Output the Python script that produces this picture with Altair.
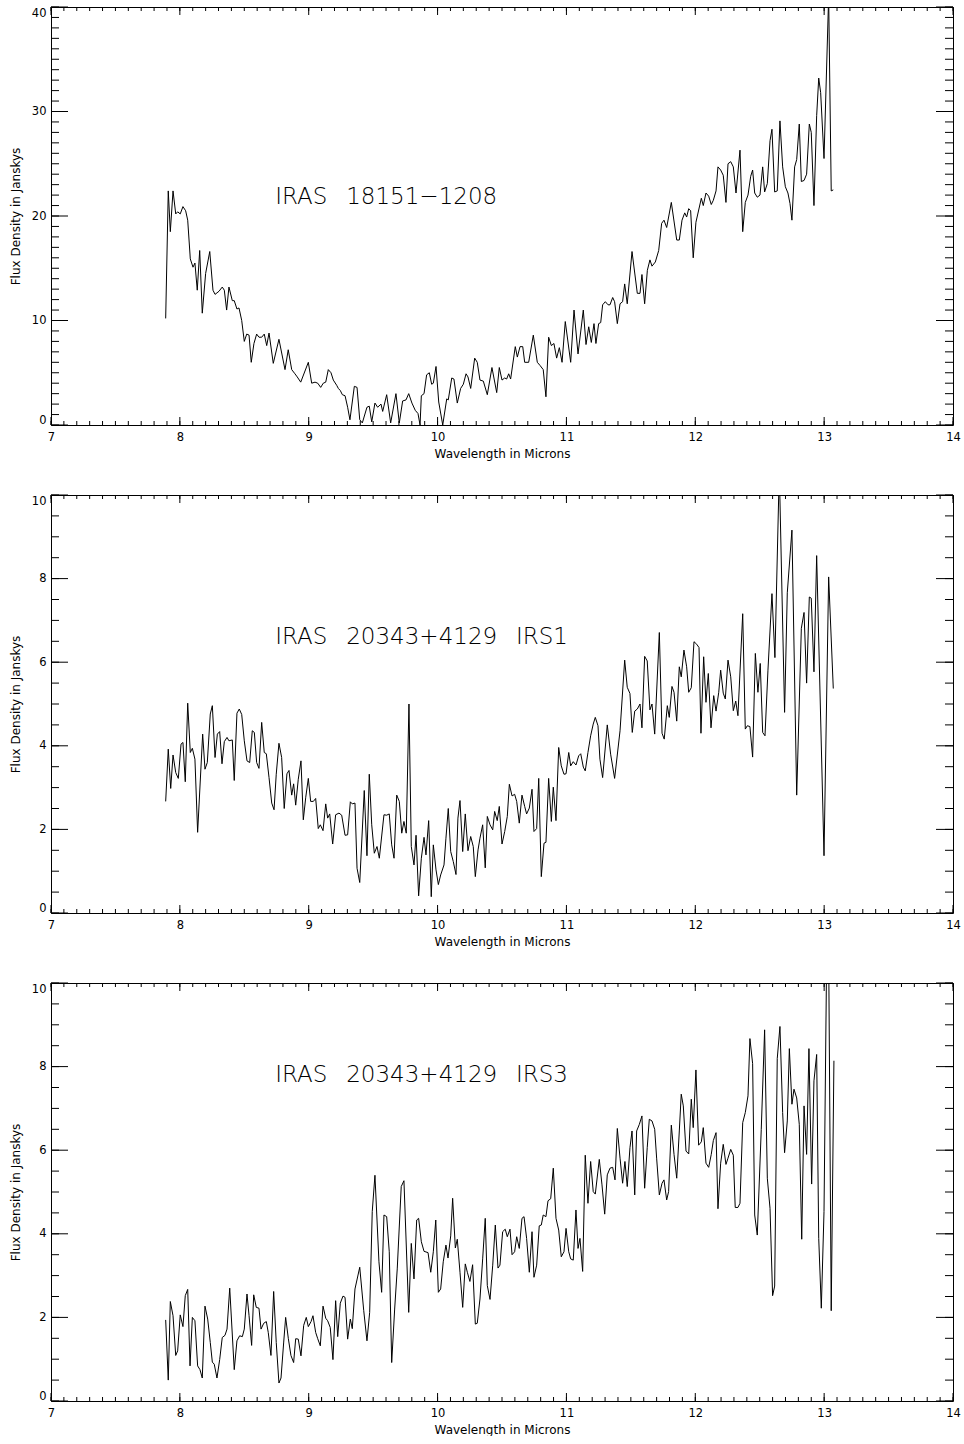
import altair as alt
import pandas as pd

# ---------------- data ----------------
wl1 = [7.890, 7.910, 7.926, 7.947, 7.968, 7.983, 8.003, 8.024, 8.045, 8.061,
       8.081, 8.102, 8.117, 8.135, 8.154, 8.174, 8.200, 8.232, 8.257, 8.273,
       8.304, 8.329, 8.345, 8.363, 8.381, 8.407, 8.422, 8.443, 8.459, 8.480,
       8.500, 8.519, 8.537, 8.554, 8.575, 8.596, 8.614, 8.635, 8.655, 8.674,
       8.692, 8.725, 8.769, 8.816, 8.841, 8.868, 8.893, 8.911, 8.938, 8.997,
       9.023, 9.049, 9.070, 9.093, 9.113, 9.132, 9.152, 9.173, 9.191, 9.217,
       9.230, 9.245, 9.261, 9.282, 9.302, 9.320, 9.354, 9.375, 9.396, 9.416,
       9.452, 9.470, 9.489, 9.514, 9.535, 9.561, 9.574, 9.605, 9.636, 9.677,
       9.703, 9.729, 9.755, 9.776, 9.801, 9.827, 9.848, 9.864, 9.874, 9.895,
       9.915, 9.936, 9.954, 9.967, 9.988, 10.009, 10.040, 10.071, 10.083, 10.110,
       10.127, 10.153, 10.179, 10.200, 10.221, 10.236, 10.257, 10.288, 10.308, 10.329,
       10.355, 10.386, 10.422, 10.459, 10.479, 10.500, 10.521, 10.536, 10.552, 10.567,
       10.603, 10.619, 10.640, 10.661, 10.676, 10.707, 10.743, 10.774, 10.795, 10.820,
       10.841, 10.862, 10.883, 10.903, 10.924, 10.945, 10.966, 10.991, 11.033, 11.059,
       11.090, 11.131, 11.152, 11.173, 11.193, 11.214, 11.229, 11.250, 11.266, 11.281,
       11.302, 11.323, 11.338, 11.359, 11.374, 11.395, 11.416, 11.436, 11.452, 11.472,
       11.509, 11.550, 11.571, 11.586, 11.607, 11.628, 11.648, 11.664, 11.690, 11.716,
       11.739, 11.757, 11.778, 11.814, 11.856, 11.876, 11.897, 11.918, 11.933, 11.949,
       11.964, 11.984, 12.005, 12.047, 12.062, 12.083, 12.104, 12.124, 12.140, 12.161,
       12.176, 12.197, 12.217, 12.238, 12.254, 12.275, 12.295, 12.316, 12.347, 12.368,
       12.388, 12.409, 12.430, 12.445, 12.461, 12.481, 12.502, 12.523, 12.538, 12.559,
       12.580, 12.595, 12.616, 12.636, 12.657, 12.678, 12.699, 12.719, 12.735, 12.750,
       12.771, 12.787, 12.807, 12.823, 12.844, 12.864, 12.885, 12.900, 12.921, 12.942,
       12.958, 12.973, 12.999, 13.035, 13.055, 13.071]
flux1 = [10.2, 22.4, 18.5, 22.4, 20.2, 20.4, 20.2, 20.9, 20.5, 19.6,
         15.9, 15.1, 15.5, 12.9, 16.7, 10.7, 14.5, 16.6, 12.9, 12.5,
         12.8, 13.2, 12.9, 11.0, 13.2, 11.9, 11.9, 11.1, 11.2, 10.0,
         8.0, 8.7, 8.6, 6.0, 7.8, 8.7, 8.4, 8.4, 8.7, 7.6,
         8.8, 5.9, 8.2, 5.3, 7.2, 5.3, 4.9, 4.6, 4.1, 6.0,
         4.0, 4.1, 4.0, 3.6, 4.0, 4.1, 5.3, 5.0, 4.3, 3.8,
         3.5, 3.3, 2.9, 2.8, 1.7, 0.5, 3.7, 3.6, 0.5, 0.2,
         1.7, 1.8, 0.3, 2.1, 1.7, 2.0, 1.3, 2.9, 0.2, 3.0,
         0.2, 2.3, 2.4, 3.0, 2.1, 1.4, 1.1, 0.0, 2.8, 3.0,
         4.8, 5.0, 3.9, 4.0, 5.6, 2.2, 0.0, 2.5, 2.4, 4.5,
         4.4, 2.1, 3.5, 3.9, 4.9, 4.6, 3.5, 6.4, 6.0, 4.3,
         4.2, 2.9, 5.5, 3.1, 5.5, 4.3, 4.5, 4.4, 4.9, 4.4,
         7.5, 6.5, 7.5, 7.5, 6.0, 6.0, 8.6, 6.0, 5.7, 5.3,
         2.7, 8.4, 7.6, 7.8, 6.4, 7.4, 6.0, 9.9, 6.0, 11.0,
         6.8, 11.0, 7.7, 9.4, 7.9, 9.7, 7.8, 9.7, 9.8, 11.5,
         11.8, 11.5, 11.5, 12.2, 11.8, 9.7, 11.6, 11.8, 13.5, 11.6,
         16.6, 12.6, 12.6, 14.4, 11.6, 14.8, 15.8, 15.2, 15.6, 16.7,
         19.3, 19.6, 18.9, 21.3, 17.7, 17.7, 19.6, 20.3, 19.9, 20.7,
         20.5, 16.0, 19.4, 21.7, 21.0, 22.2, 21.9, 21.1, 21.5, 22.4,
         24.7, 24.4, 23.9, 21.3, 25.0, 25.2, 24.7, 22.2, 26.3, 18.5,
         21.3, 22.0, 23.8, 24.4, 22.2, 21.8, 22.0, 24.7, 22.3, 23.1,
         27.2, 28.3, 22.3, 22.4, 29.1, 24.7, 22.8, 22.2, 21.2, 19.6,
         24.7, 25.4, 28.8, 23.3, 23.4, 24.0, 28.8, 28.0, 21.0, 29.6,
         33.2, 31.8, 25.5, 41.0, 22.4, 22.5]

wl2 = [7.890, 7.910, 7.929, 7.947, 7.968, 7.988, 8.009, 8.024, 8.042, 8.061,
       8.081, 8.097, 8.117, 8.138, 8.177, 8.195, 8.213, 8.236, 8.252, 8.273,
       8.291, 8.309, 8.327, 8.345, 8.366, 8.381, 8.407, 8.422, 8.443, 8.461,
       8.480, 8.500, 8.521, 8.542, 8.562, 8.578, 8.596, 8.614, 8.635, 8.655,
       8.671, 8.692, 8.713, 8.731, 8.748, 8.769, 8.790, 8.810, 8.831, 8.847,
       8.868, 8.883, 8.899, 8.919, 8.940, 8.958, 8.977, 8.997, 9.015, 9.036,
       9.054, 9.074, 9.090, 9.111, 9.132, 9.147, 9.163, 9.186, 9.209, 9.235,
       9.256, 9.282, 9.302, 9.323, 9.338, 9.359, 9.375, 9.396, 9.431, 9.452,
       9.470, 9.489, 9.509, 9.530, 9.548, 9.584, 9.605, 9.625, 9.644, 9.662,
       9.683, 9.703, 9.722, 9.739, 9.757, 9.778, 9.796, 9.817, 9.833, 9.853,
       9.874, 9.895, 9.910, 9.931, 9.951, 9.967, 9.988, 10.006, 10.024, 10.050,
       10.065, 10.083, 10.102, 10.122, 10.143, 10.158, 10.174, 10.195, 10.215, 10.236,
       10.257, 10.277, 10.293, 10.314, 10.329, 10.350, 10.370, 10.386, 10.407, 10.428,
       10.443, 10.463, 10.479, 10.500, 10.521, 10.541, 10.557, 10.578, 10.598, 10.614,
       10.634, 10.655, 10.676, 10.691, 10.712, 10.733, 10.748, 10.769, 10.785, 10.805,
       10.826, 10.841, 10.862, 10.883, 10.898, 10.919, 10.940, 10.960, 10.981, 10.997,
       11.018, 11.033, 11.053, 11.074, 11.095, 11.111, 11.131, 11.146, 11.167, 11.188,
       11.208, 11.224, 11.245, 11.260, 11.281, 11.317, 11.343, 11.374, 11.416, 11.452,
       11.472, 11.493, 11.511, 11.530, 11.550, 11.571, 11.586, 11.607, 11.627, 11.648,
       11.664, 11.685, 11.721, 11.742, 11.759, 11.783, 11.798, 11.819, 11.835, 11.856,
       11.876, 11.891, 11.912, 11.933, 11.949, 11.969, 11.990, 12.011, 12.029, 12.044,
       12.065, 12.083, 12.101, 12.122, 12.143, 12.161, 12.182, 12.197, 12.217, 12.233,
       12.254, 12.275, 12.295, 12.314, 12.331, 12.368, 12.388, 12.404, 12.424, 12.445,
       12.466, 12.486, 12.504, 12.523, 12.541, 12.564, 12.595, 12.618, 12.652, 12.693,
       12.714, 12.750, 12.787, 12.823, 12.844, 12.864, 12.885, 12.900, 12.921, 12.942,
       12.999, 13.035, 13.071]
flux2 = [2.67, 3.92, 2.98, 3.78, 3.36, 3.22, 4.04, 4.08, 3.14, 5.02,
         3.84, 3.94, 3.68, 1.93, 4.28, 3.44, 3.60, 4.76, 4.96, 3.72,
         4.28, 4.34, 3.57, 4.10, 4.20, 4.12, 4.14, 3.17, 4.78, 4.88,
         4.75, 4.12, 3.64, 3.60, 4.36, 4.32, 3.60, 3.46, 4.56, 3.84,
         3.81, 3.24, 2.63, 2.47, 3.32, 4.06, 3.72, 2.50, 3.33, 3.41,
         2.82, 3.09, 2.58, 3.20, 3.64, 2.23, 2.77, 3.22, 2.67, 2.67,
         2.74, 2.02, 2.11, 1.97, 2.61, 2.27, 2.37, 1.65, 2.35, 2.39,
         2.34, 1.86, 1.87, 2.66, 2.61, 2.63, 1.07, 0.73, 2.93, 1.37,
         3.32, 2.11, 1.43, 1.59, 1.31, 2.35, 2.34, 2.37, 1.63, 1.31,
         2.82, 2.67, 1.91, 2.19, 1.91, 5.00, 1.59, 1.15, 1.86, 0.41,
         1.31, 1.81, 1.39, 2.21, 0.39, 1.63, 1.03, 0.68, 0.91, 1.15,
         1.79, 2.50, 1.47, 1.23, 0.92, 2.27, 2.69, 1.47, 2.37, 1.49,
         1.83, 1.59, 0.87, 1.51, 1.79, 2.11, 1.08, 2.31, 2.11, 1.99,
         2.43, 2.21, 2.55, 1.65, 1.95, 2.31, 3.08, 2.80, 2.84, 2.67,
         2.15, 2.82, 2.55, 2.37, 2.51, 2.96, 1.95, 2.02, 3.22, 0.87,
         1.67, 1.69, 3.22, 2.19, 3.01, 2.21, 3.96, 3.52, 3.32, 3.33,
         3.84, 3.52, 3.62, 3.54, 3.76, 3.81, 3.49, 3.40, 3.84, 4.24,
         4.52, 4.68, 4.48, 3.68, 3.24, 4.50, 3.80, 3.22, 4.36, 6.05,
         5.40, 5.25, 4.32, 4.83, 4.88, 5.00, 4.43, 6.14, 6.03, 4.86,
         5.00, 4.28, 6.71, 4.30, 4.16, 4.96, 4.68, 5.42, 5.28, 4.59,
         5.89, 5.65, 6.29, 5.89, 5.28, 5.39, 6.49, 6.43, 6.35, 4.30,
         6.13, 5.04, 5.73, 4.43, 5.20, 4.83, 5.28, 5.81, 5.26, 5.12,
         6.05, 5.65, 4.84, 5.07, 4.72, 7.16, 4.40, 4.48, 4.46, 3.73,
         6.21, 5.28, 5.97, 4.32, 4.24, 5.81, 7.64, 6.11, 10.6, 4.80,
         7.66, 9.16, 2.82, 6.81, 7.19, 5.50, 7.56, 7.53, 5.77, 8.55,
         1.37, 8.04, 5.37]

wl3 = [7.890, 7.910, 7.926, 7.947, 7.968, 7.983, 8.003, 8.024, 8.042, 8.061,
       8.079, 8.097, 8.117, 8.138, 8.156, 8.174, 8.195, 8.216, 8.236, 8.252,
       8.267, 8.288, 8.309, 8.329, 8.350, 8.366, 8.387, 8.422, 8.443, 8.464,
       8.485, 8.500, 8.521, 8.537, 8.557, 8.573, 8.593, 8.614, 8.630, 8.651,
       8.671, 8.686, 8.707, 8.728, 8.748, 8.769, 8.785, 8.806, 8.821, 8.842,
       8.862, 8.883, 8.899, 8.919, 8.940, 8.961, 8.981, 8.997, 9.018, 9.033,
       9.054, 9.070, 9.090, 9.111, 9.132, 9.147, 9.167, 9.188, 9.209, 9.225,
       9.245, 9.266, 9.282, 9.302, 9.323, 9.338, 9.359, 9.396, 9.427, 9.452,
       9.473, 9.493, 9.514, 9.545, 9.566, 9.584, 9.605, 9.625, 9.644, 9.667,
       9.687, 9.718, 9.739, 9.776, 9.796, 9.817, 9.838, 9.853, 9.874, 9.895,
       9.926, 9.947, 9.967, 9.986, 10.006, 10.024, 10.044, 10.065, 10.081, 10.102,
       10.117, 10.138, 10.153, 10.174, 10.195, 10.215, 10.231, 10.251, 10.272, 10.293,
       10.308, 10.329, 10.350, 10.370, 10.386, 10.407, 10.428, 10.448, 10.469, 10.484,
       10.505, 10.525, 10.541, 10.562, 10.578, 10.598, 10.614, 10.634, 10.655, 10.671,
       10.691, 10.712, 10.733, 10.748, 10.769, 10.789, 10.805, 10.820, 10.841, 10.857,
       10.878, 10.898, 10.919, 10.940, 10.960, 10.981, 10.997, 11.018, 11.033, 11.053,
       11.074, 11.090, 11.105, 11.126, 11.146, 11.167, 11.188, 11.208, 11.224, 11.255,
       11.276, 11.297, 11.317, 11.338, 11.359, 11.377, 11.395, 11.416, 11.436, 11.454,
       11.472, 11.493, 11.509, 11.530, 11.545, 11.566, 11.586, 11.607, 11.627, 11.643,
       11.664, 11.685, 11.700, 11.721, 11.742, 11.757, 11.778, 11.793, 11.814, 11.835,
       11.856, 11.876, 11.891, 11.907, 11.928, 11.949, 11.969, 11.984, 12.005, 12.026,
       12.047, 12.062, 12.083, 12.104, 12.124, 12.140, 12.161, 12.176, 12.197, 12.217,
       12.238, 12.254, 12.275, 12.295, 12.310, 12.331, 12.347, 12.368, 12.388, 12.409,
       12.424, 12.445, 12.461, 12.481, 12.512, 12.538, 12.559, 12.580, 12.600, 12.616,
       12.636, 12.657, 12.678, 12.693, 12.714, 12.730, 12.750, 12.766, 12.787, 12.807,
       12.826, 12.844, 12.864, 12.882, 12.903, 12.921, 12.942, 12.958, 12.978, 12.999,
       13.020, 13.035, 13.055, 13.076]
flux3 = [1.94, 0.50, 2.38, 2.04, 1.09, 1.20, 2.06, 1.78, 2.52, 2.67,
         0.84, 2.00, 1.92, 0.84, 0.75, 0.55, 2.27, 1.96, 1.40, 0.93,
         0.88, 0.55, 0.99, 1.52, 1.57, 1.72, 2.70, 0.75, 1.44, 1.56,
         1.54, 1.72, 2.56, 2.04, 1.33, 2.54, 2.24, 2.22, 1.72, 1.86,
         1.90, 1.64, 1.09, 2.62, 1.40, 0.43, 0.55, 1.41, 2.00, 1.49,
         1.09, 0.92, 1.49, 1.48, 1.08, 1.81, 2.00, 1.78, 1.90, 2.04,
         1.64, 1.49, 1.32, 2.27, 1.98, 1.92, 1.76, 0.99, 2.40, 1.54,
         2.34, 2.51, 2.48, 1.48, 1.96, 1.73, 2.68, 3.20, 2.16, 1.44,
         2.12, 4.53, 5.40, 3.33, 2.60, 4.45, 4.41, 3.57, 0.92, 2.20,
         3.16, 5.13, 5.27, 2.12, 3.77, 2.92, 4.33, 4.37, 3.81, 3.58,
         3.55, 3.08, 3.57, 4.33, 2.60, 2.68, 3.33, 3.73, 3.42, 3.95,
         4.85, 3.66, 3.87, 3.08, 2.24, 3.28, 3.08, 2.86, 3.26, 1.84,
         1.86, 2.44, 3.40, 4.37, 2.76, 2.43, 3.25, 4.21, 3.18, 3.25,
         4.05, 4.11, 3.93, 4.11, 3.50, 3.57, 3.93, 3.65, 4.37, 4.41,
         3.89, 3.08, 4.05, 2.96, 3.25, 4.19, 4.21, 4.45, 4.41, 4.79,
         4.84, 5.57, 4.37, 4.09, 3.45, 3.57, 4.13, 3.57, 3.40, 3.37,
         4.57, 3.65, 3.89, 3.10, 5.88, 4.73, 5.73, 5.01, 4.95, 5.78,
         5.17, 4.47, 5.41, 5.57, 5.59, 5.29, 6.52, 5.81, 5.21, 5.73,
         5.13, 6.06, 6.46, 4.93, 6.46, 6.62, 6.82, 5.09, 6.06, 6.74,
         6.70, 6.50, 5.81, 4.93, 5.21, 5.29, 4.81, 5.01, 6.60, 5.90,
         5.33, 6.46, 7.34, 7.06, 5.98, 5.91, 7.22, 6.54, 7.92, 6.12,
         6.20, 6.54, 5.69, 5.59, 5.90, 6.23, 6.42, 4.60, 5.69, 6.14,
         5.66, 5.81, 6.02, 5.88, 4.63, 4.63, 4.73, 6.66, 6.90, 7.30,
         8.67, 8.07, 4.45, 3.97, 6.50, 8.88, 5.33, 4.61, 2.52, 2.75,
         8.19, 8.96, 6.90, 5.94, 6.70, 8.43, 7.10, 7.46, 7.25, 6.62,
         3.87, 7.06, 5.90, 8.43, 5.19, 7.66, 8.29, 3.89, 2.22, 4.53,
         10.8, 10.8, 2.16, 8.14]

# tick values
x_major = [7, 8, 9, 10, 11, 12, 13, 14]
x_minor = [round(7 + 0.1 * i, 1) for i in range(71)]
y1_major = [0, 10, 20, 30, 40]
y1_minor = list(range(0, 41))
y23_major = [0, 2, 4, 6, 8, 10]
y23_minor = [round(0.5 * i, 1) for i in range(21)]

# annotation texts and their anchors (data coordinates)
labels = ["IRAS\u2002 18151\u22121208",
          "IRAS\u2002 20343+4129\u2002 IRS1",
          "IRAS\u2002 20343+4129\u2002 IRS3"]
label_x = [8.74, 8.74, 8.74]
label_y = [21.8, 6.6, 7.8]

W, H = 902, 418
TXT = "DejaVu Sans"
XS = alt.Scale(domain=[7, 14], nice=False, zero=False)
X_AXIS = alt.Axis(values=x_major, format="d", ticks=False, domain=False, grid=False,
                  labelFlush=False, labelPadding=6,
                  title="Wavelength in Microns", titlePadding=6)


def y_axis(ymaj):
    return alt.Axis(values=ymaj, format="d", ticks=False, domain=False, grid=False,
                    labelFlush=True, labelPadding=5,
                    title="Flux Density in Janskys", titlePadding=9,
                    minExtent=20, maxExtent=20)


def panel(wl, flux, ymax, ymaj, ymin, text, tx, ty):
    ys = alt.Scale(domain=[0, ymax], nice=False, zero=False)
    YA = y_axis(ymaj)
    xenc = alt.X("wavelength:Q", scale=XS, axis=X_AXIS)
    yenc = alt.Y("flux:Q", scale=ys, axis=YA)
    df = pd.DataFrame({"wavelength": wl, "flux": flux})
    line = alt.Chart(df).mark_line(color="black", strokeWidth=1, clip=True).encode(
        x=xenc, y=yenc)
    ann = alt.Chart(pd.DataFrame({"wavelength": [tx], "flux": [ty], "t": [text]})).mark_text(
        align="left", baseline="middle", font=TXT, fontSize=23,
        fontWeight=200, color="black"
    ).encode(x=xenc, y=yenc, text="t:N")
    layers = [line, ann]
    # inward ticks on the bottom / top edges
    for vals, size in [(x_major, 8), (x_minor, 4)]:
        base = alt.Chart(pd.DataFrame({"wavelength": vals})).mark_rule(color="black", strokeWidth=1)
        layers.append(base.encode(x=xenc, y=alt.value(H), y2=alt.value(H - size)))
        layers.append(base.encode(x=xenc, y=alt.value(0), y2=alt.value(size)))
    # inward ticks on the left / right edges
    for vals, size in [(ymaj, 17), (ymin, 8)]:
        base = alt.Chart(pd.DataFrame({"flux": vals})).mark_rule(color="black", strokeWidth=1)
        layers.append(base.encode(y=yenc, x=alt.value(0), x2=alt.value(size)))
        layers.append(base.encode(y=yenc, x=alt.value(W), x2=alt.value(W - size)))
    return alt.layer(*layers).properties(width=W, height=H)


p1 = panel(wl1, flux1, 40, y1_major, y1_minor, labels[0], label_x[0], label_y[0])
p2 = panel(wl2, flux2, 10, y23_major, y23_minor, labels[1], label_x[1], label_y[1])
p3 = panel(wl3, flux3, 10, y23_major, y23_minor, labels[2], label_x[2], label_y[2])

chart = alt.vconcat(p1, p2, p3, spacing=70, bounds="flush").configure_view(
    stroke="black", strokeWidth=1
).configure_axis(
    labelFont=TXT, labelFontSize=11.5, labelColor="black",
    titleFont=TXT, titleFontSize=12, titleFontWeight="normal", titleColor="black"
).properties(
    padding={"left": 8, "top": 6, "right": 0, "bottom": 0},
    background="white",
)

chart.save("out.html", embed_options={"renderer": "svg", "actions": False})
